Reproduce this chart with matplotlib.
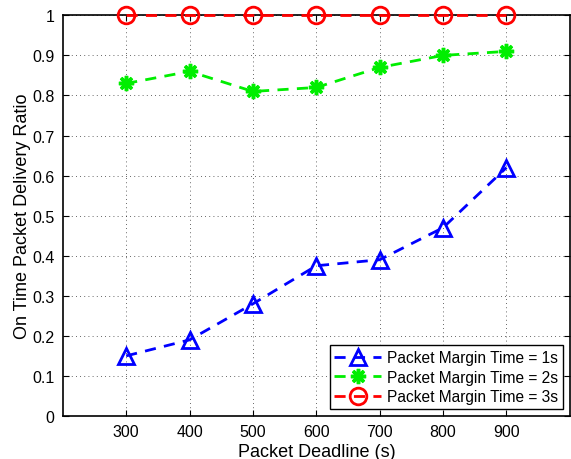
import numpy as np
import matplotlib
matplotlib.use("Agg")
import matplotlib.pyplot as plt

plt.rcParams["font.family"] = ["Liberation Sans", "DejaVu Sans"]

# data
deadline = [300, 400, 500, 600, 700, 800, 900]
margin_1s = [0.15, 0.19, 0.28, 0.375, 0.39, 0.47, 0.62]
margin_2s = [0.83, 0.86, 0.81, 0.82, 0.87, 0.90, 0.91]
margin_3s = [1.0, 1.0, 1.0, 1.0, 1.0, 1.0, 1.0]
series_labels = ["Packet Margin Time = 1s", "Packet Margin Time = 2s", "Packet Margin Time = 3s"]
yticks = [0, 0.1, 0.2, 0.3, 0.4, 0.5, 0.6, 0.7, 0.8, 0.9, 1]

fig = plt.figure(figsize=(5.71, 4.60), dpi=100)
ax = fig.add_axes([0.110, 0.0935, 0.888, 0.871])

ax.plot(deadline, margin_1s, color="#0000ff", lw=2, marker="^", ms=12,
        mfc="none", mew=2, dashes=(4, 3), label=series_labels[0], clip_on=False)
ax.plot(deadline, margin_2s, color="#00ee00", lw=2, marker=(8, 2, 0), ms=11,
        mew=2.5, dashes=(4, 3), label=series_labels[1], clip_on=False)
ax.plot(deadline, margin_3s, color="#ff0000", lw=2, marker="o", ms=12,
        mfc="none", mew=2, dashes=(4, 3), label=series_labels[2], clip_on=False, zorder=5)

ax.set_xlim(200, 1000)
ax.set_ylim(0, 1)
ax.set_xticks(deadline)
ax.set_yticks(yticks)
ax.set_yticklabels([f"{t:g}" for t in yticks])
ax.tick_params(direction="in", top=True, right=True, labelsize=11.5, length=4, width=0.8, pad=6)
ax.grid(True, linestyle=(0, (1, 4)), color="black", lw=0.6, alpha=0.8)
for s in ax.spines.values():
    s.set_linewidth(1.2)
    s.set_color("black")

ax.set_xlabel("Packet Deadline (s)", fontsize=13, labelpad=3)
ax.set_ylabel("On Time Packet Delivery Ratio", fontsize=13, labelpad=1)

leg = ax.legend(loc="lower right", fontsize=11.2, frameon=True, fancybox=False,
                edgecolor="black", framealpha=1, borderpad=0.3, labelspacing=0.3,
                handlelength=3.0, handletextpad=0.4, borderaxespad=0.45)
leg.get_frame().set_linewidth(1.0)

fig.savefig("out.png", dpi=100)
